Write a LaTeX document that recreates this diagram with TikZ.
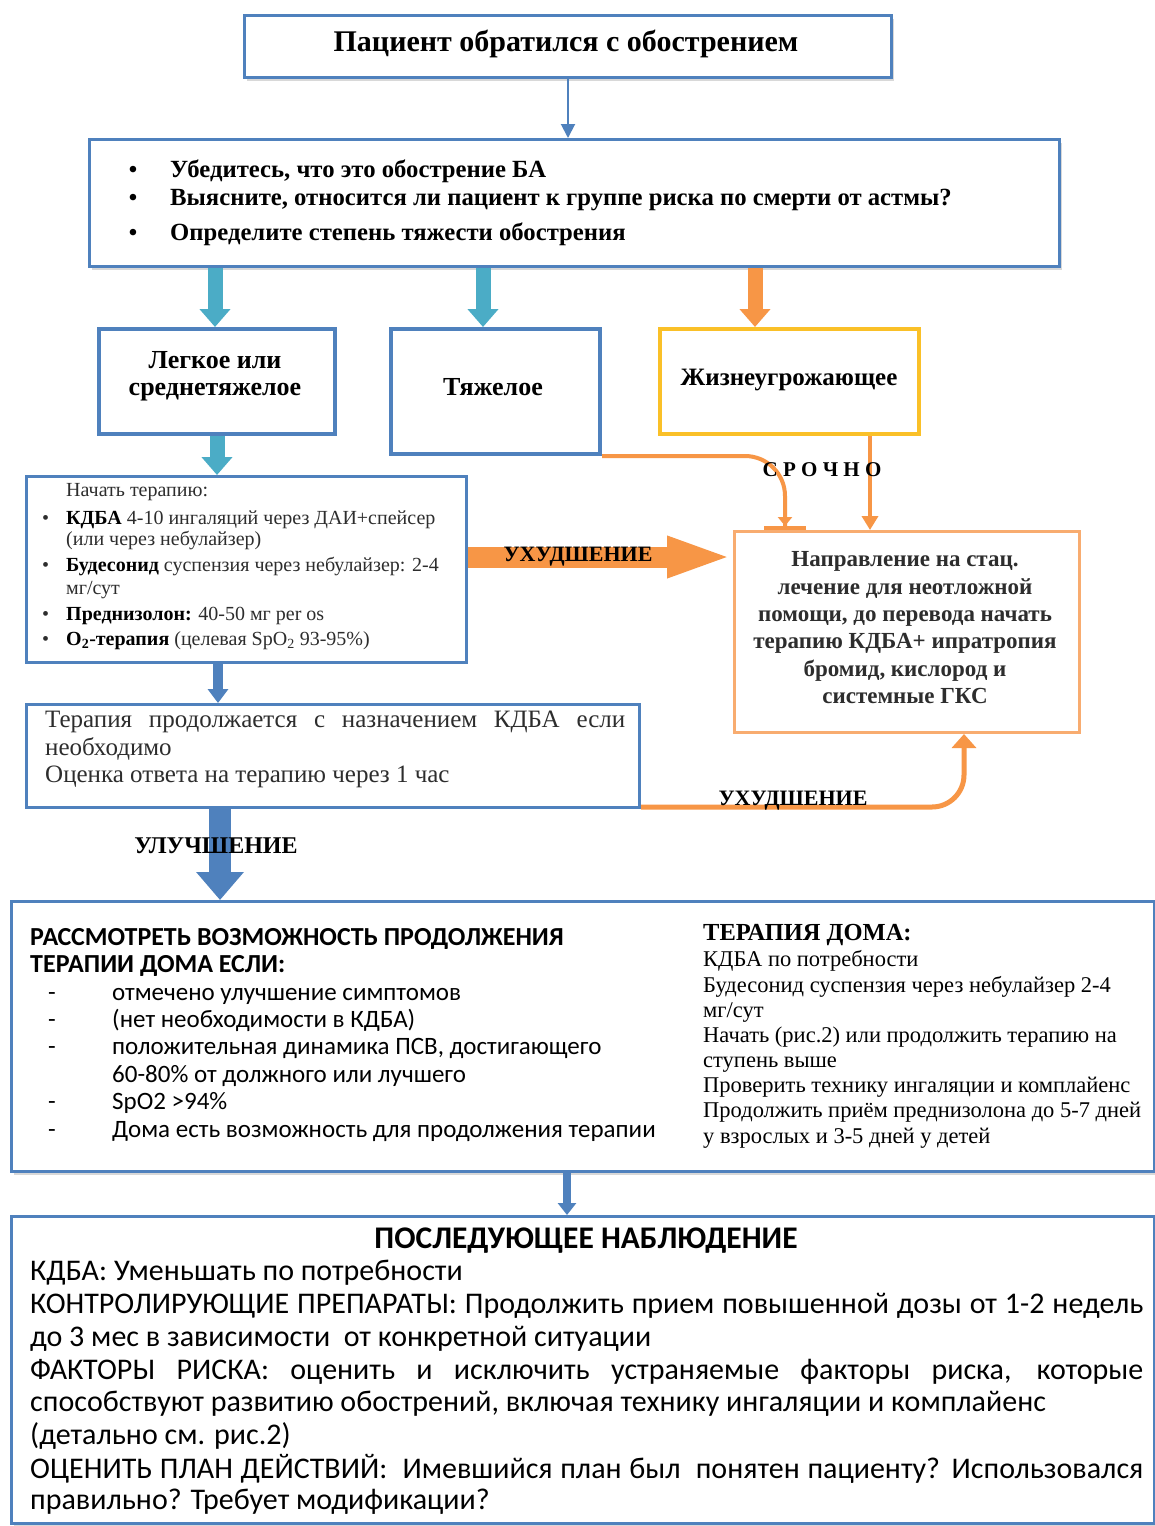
\documentclass[tikz,border=0pt]{standalone}
\usepackage{fontspec}
\setmainfont{Liberation Serif}
\newfontfamily\carl{Carlito}
\usetikzlibrary{arrows.meta,shadows}
\definecolor{bl}{RGB}{79,129,189}
\definecolor{aq}{RGB}{75,172,198}
\definecolor{orn}{RGB}{247,150,70}
\definecolor{orl}{RGB}{248,172,112}
\definecolor{gld}{RGB}{250,192,40}
\definecolor{txg}{RGB}{45,45,45}
\newcommand\st{\rule[-0.3em]{0pt}{1.05em}}
\newcommand\fsz[1]{\fontsize{#1}{#1}\selectfont}
\begin{document}
\begin{tikzpicture}[x=1pt,y=-1pt,
  box/.style={draw=bl, line width=3pt, fill=white, anchor=north west, inner sep=0pt},
  shd/.style={drop shadow={shadow xshift=2pt, shadow yshift=-3pt, opacity=0.25, fill=black!60}},
  ln/.style={inner sep=0pt, anchor=west},
  cn/.style={inner sep=0pt, anchor=center},
  thin/.style={draw=bl, line width=2pt, -{Triangle[width=14pt,length=14pt]}},
  olin/.style={draw=orn, line width=4pt}
]
\useasboundingbox (0,0) rectangle (1155,1526);
\fill[white] (0,0) rectangle (1155,1526);

% ---------- boxes ----------
\node[box, shd, minimum width=647pt, minimum height=62pt] (top) at (243,14) {};
\node[box, shd, minimum width=970pt, minimum height=127pt] (b2) at (88,138) {};
\node[box, line width=4pt, minimum width=236pt, minimum height=105pt] (leg) at (97,327) {};
\node[box, line width=4pt, minimum width=209pt, minimum height=125pt] (tya) at (389,327) {};
\node[box, draw=gld, line width=4pt, minimum width=259pt, minimum height=105pt] (zh) at (658,327) {};
\node[box, minimum width=440pt, minimum height=186pt] (th) at (25,475) {};
\node[box, draw=orl, line width=3pt, minimum width=345pt, minimum height=201pt] (stat) at (733,530) {};
\node[box, minimum width=613pt, minimum height=103pt] (tp) at (25,703) {};
\node[box, shd, minimum width=1143pt, minimum height=270pt] (big) at (10,900) {};
\node[box, shd, minimum width=1143pt, minimum height=307pt] (fin) at (10,1215) {};

% ---------- helper coordinates ----------
\coordinate (xa) at (215,0);
\coordinate (xb) at (483,0);
\coordinate (xc) at (755,0);
\coordinate (xd) at (870,0);
\coordinate (xe) at (218,0);
\coordinate (xf) at (220,0);
\coordinate (xg) at (567,0);
\coordinate (yu) at (0,557);

% ---------- connectors ----------
\draw[thin] (top.south) -- (top.south |- b2.north);
\draw[aq, line width=15pt, -{Triangle[width=30pt,length=18pt]}] (b2.south -| xa) -- (leg.north -| xa);
\draw[aq, line width=15pt, -{Triangle[width=30pt,length=18pt]}] (b2.south -| xb) -- (tya.north -| xb);
\draw[orn, line width=15pt, -{Triangle[width=30pt,length=18pt]}] (b2.south -| xc) -- (zh.north -| xc);
\draw[aq, line width=15pt, -{Triangle[width=30pt,length=18pt]}] (leg.south) -- (leg.south |- th.north);
\draw[bl, line width=10pt, -{Triangle[width=20pt,length=14pt]}] (th.south -| xe) -- (tp.north -| xe);
\draw[bl, line width=22pt, -{Triangle[width=46pt,length=28pt]}] (tp.south -| xf) -- (big.north -| xf);
\draw[bl, line width=8pt, -{Triangle[width=18pt,length=12pt]}] (big.south -| xg) -- (fin.north -| xg);
\draw[orn, line width=21pt, -{Triangle[width=37pt,length=66pt]}] (th.east |- yu) -- (stat.west |- yu);
\draw[olin, rounded corners=40pt, -{Triangle[width=14pt,length=9pt]Bar[width=42pt]}]
  (tya.south east) -| ([xshift=-122pt]stat.north);
\draw[olin, -{Triangle[width=16pt,length=14pt]}] (zh.south -| xd) -- (stat.north -| xd);
\draw[orn, line width=5pt, rounded corners=32pt, -{Triangle[width=24pt,length=14pt]}]
  ([yshift=2pt]tp.south east) -| ([xshift=57pt]stat.south);

% ---------- texts: top ----------
\node[cn, font=\bfseries\fsz{30}] (t_top) at (566,45) {\st Пациент обратился с обострением};
\node[cn, font=\bfseries\fsz{24}] (b2a) at (133,172) {\st •};
\node[cn, font=\bfseries\fsz{24}] (b2b) at (133,200) {\st •};
\node[cn, font=\bfseries\fsz{24}] (b2c) at (133,235) {\st •};
\node[ln, font=\bfseries\fsz{24.7}] (b2t1) at (170,172) {\st Убедитесь, что это обострение БА};
\node[ln, font=\bfseries\fsz{24.7}] (b2t2) at (170,200) {\st Выясните, относится ли пациент к группе риска по смерти от астмы?};
\node[ln, font=\bfseries\fsz{24.7}] (b2t3) at (170,235) {\st Определите степень тяжести обострения};

\node[cn, font=\bfseries\fsz{26}] (legt1) at (215,363) {\st Легкое или};
\node[cn, font=\bfseries\fsz{26}] (legt2) at (215,390) {\st среднетяжелое};
\node[cn, font=\bfseries\fsz{26}] (tyat) at (493,390) {\st Тяжелое};
\node[cn, font=\bfseries\fsz{25}] (zht) at (789,380) {\st Жизнеугрожающее};

% ---------- therapy box ----------
\begin{scope}[every node/.style={ln, font=\fsz{20}, text=txg}]
\node (th0) at (66,492) {\st Начать терапию:};
\node (th1d) at (42,520) {\st •};
\node (th1) at (66,520) {\st \textcolor{black}{\bfseries КДБА} 4-10 ингаляций через ДАИ+спейсер};
\node (th1b) at (66,541) {\st (или через небулайзер)};
\node (th2d) at (42,567) {\st •};
\node (th2) at (66,567) {\st \textcolor{black}{\bfseries Будесонид} суспензия через небулайзер: 2-4};
\node (th2b) at (66,590) {\st мг/сут};
\node (th3d) at (42,616) {\st •};
\node (th3) at (66,616) {\st \textcolor{black}{\bfseries Преднизолон:} 40-50 мг per os};
\node (th4d) at (42,641) {\st •};
\node (th4) at (66,641) {\st \textcolor{black}{\bfseries O\textsubscript{2}-терапия} (целевая SpO\textsubscript{2} 93-95\%)};
\end{scope}

% ---------- labels on connectors ----------
\node[cn, font=\bfseries\fsz{22}] (uh1) at (578,557) {\st УХУДШЕНИЕ};
\node[cn, font=\bfseries\fsz{21}] (sro) at (822,472) {\st С Р О Ч Н О};
\node[cn, font=\bfseries\fsz{22}] (uh2) at (793,801) {\st УХУДШЕНИЕ};
\node[cn, font=\bfseries\fsz{24}] (ulu) at (216,848) {\st УЛУЧШЕНИЕ};

% ---------- stationary box ----------
\begin{scope}[every node/.style={cn, font=\bfseries\fsz{23}, text=txg}]
\node (s1) at (905,561) {\st Направление на стац.};
\node (s2) at (905,589) {\st лечение для неотложной};
\node (s3) at (905,616) {\st помощи, до перевода начать};
\node (s4) at (905,643) {\st терапию КДБА+ ипратропия};
\node (s5) at (905,671) {\st бромид, кислород и};
\node (s6) at (905,698) {\st системные ГКС};
\end{scope}

% ---------- continue box ----------
\begin{scope}[every node/.style={ln, font=\fsz{25}, text=txg}]
\node (p1) at (45,722) {\st\makebox[580pt][s]{Терапия продолжается с назначением КДБА если}};
\node (p2) at (45,750) {\st необходимо};
\node (p3) at (45,777) {\st Оценка ответа на терапию через 1 час};
\end{scope}

% ---------- big box left ----------
\begin{scope}[every node/.style={ln, font=\carl\fsz{25}}]
\node[font=\carl\bfseries\fsz{26}] (h1) at (30,940) {\st РАССМОТРЕТЬ ВОЗМОЖНОСТЬ ПРОДОЛЖЕНИЯ};
\node[font=\carl\bfseries\fsz{26}] (h2) at (30,967) {\st ТЕРАПИИ ДОМА ЕСЛИ:};
\node (d1) at (48,995) {\st -};
\node (d2) at (48,1022) {\st -};
\node (d3) at (48,1049) {\st -};
\node (d5) at (48,1104) {\st -};
\node (d6) at (48,1132) {\st -};
\node (l1) at (112,995) {\st отмечено улучшение симптомов};
\node (l2) at (112,1022) {\st (нет необходимости в КДБА)};
\node (l3) at (112,1049) {\st положительная динамика ПСВ, достигающего};
\node (l4) at (112,1077) {\st 60-80\% от должного или лучшего};
\node (l5) at (112,1104) {\st SpO2 >94\%};
\node (l6) at (112,1132) {\st Дома есть возможность для продолжения терапии};
\end{scope}

% ---------- big box right ----------
\begin{scope}[every node/.style={ln, font=\fsz{22.5}}]
\node[font=\bfseries\fsz{24.5}] (r0) at (703,935) {\st ТЕРАПИЯ ДОМА:};
\node (r1) at (703,961) {\st КДБА по потребности};
\node (r2) at (703,987) {\st Будесонид суспензия через небулайзер 2-4};
\node (r3) at (703,1012) {\st мг/сут};
\node (r4) at (703,1037) {\st Начать (рис.2) или продолжить терапию на};
\node (r5) at (703,1062) {\st ступень выше};
\node (r6) at (703,1087) {\st Проверить технику ингаляции и комплайенс};
\node (r7) at (703,1112) {\st Продолжить приём преднизолона до 5-7 дней};
\node (r8) at (703,1138) {\st у взрослых и 3-5 дней у детей};
\end{scope}

% ---------- final box ----------
\begin{scope}[every node/.style={ln, font=\carl\fsz{30}}]
\node[cn, font=\carl\bfseries\fsz{31.5}] (f0) at (586,1241) {\st ПОСЛЕДУЮЩЕЕ НАБЛЮДЕНИЕ};
\node (f1) at (30,1274) {\st КДБА: Уменьшать по потребности};
\node (f2) at (30,1307) {\st\makebox[1113pt][s]{КОНТРОЛИРУЮЩИЕ ПРЕПАРАТЫ: Продолжить прием повышенной дозы от 1-2 недель}};
\node (f3) at (30,1340) {\st до 3 мес в зависимости\ \ от конкретной ситуации};
\node (f4) at (30,1373) {\st\makebox[1113pt][s]{ФАКТОРЫ РИСКА: оценить и исключить устраняемые факторы риска, которые}};
\node (f5) at (30,1405) {\st способствуют развитию обострений, включая технику ингаляции и комплайенс};
\node (f6) at (30,1438) {\st (детально см. рис.2)};
\node (f7) at (30,1471) {\st\makebox[1113pt][s]{ОЦЕНИТЬ ПЛАН ДЕЙСТВИЙ:\ \ Имевшийся план был\ \ понятен пациенту? Использовался}};
\node (f8) at (30,1503) {\st правильно? Требует модификации?};
\end{scope}
\end{tikzpicture}
\end{document}
